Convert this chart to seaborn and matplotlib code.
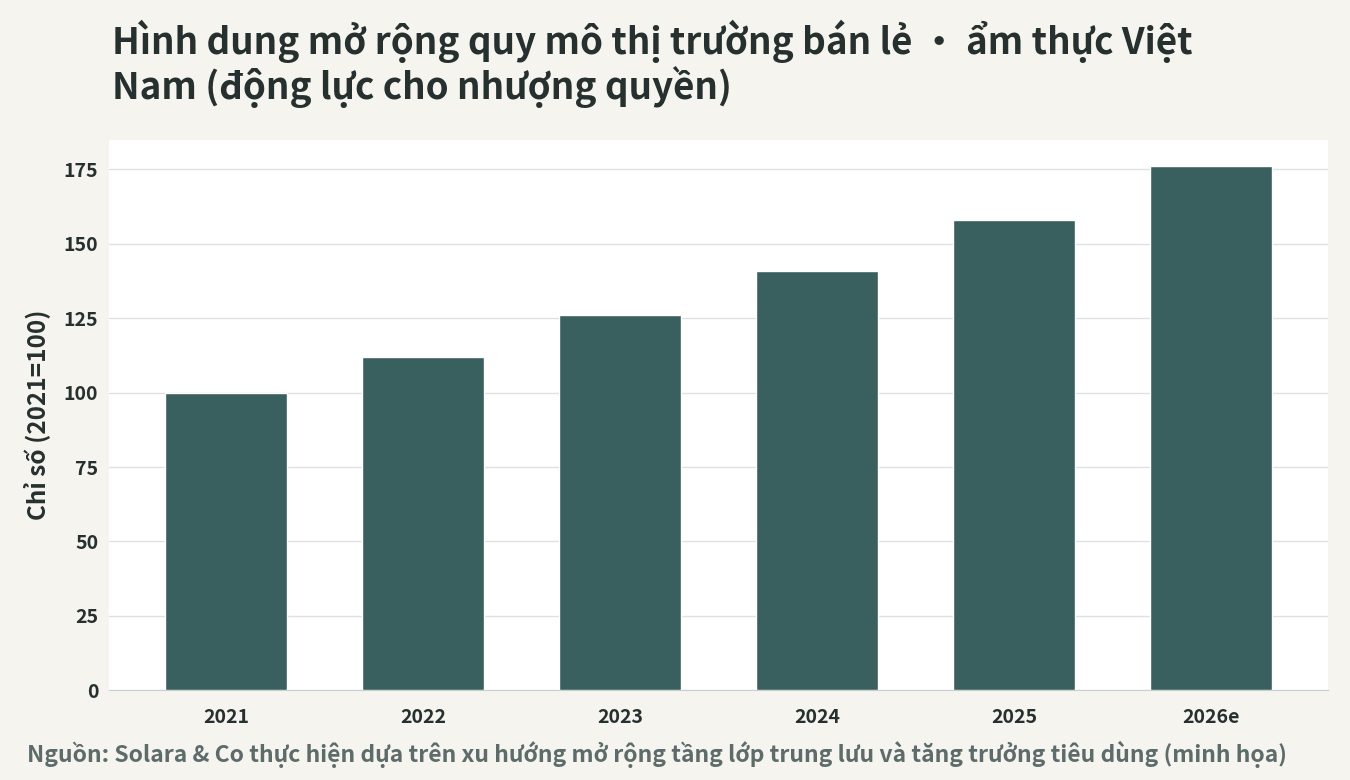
import matplotlib
matplotlib.use("Agg")
import matplotlib.pyplot as plt
import seaborn as sns
import pandas as pd

years = ["2021", "2022", "2023", "2024", "2025", "2026e"]
values = [100, 112, 126, 141, 158, 176]
title = "Hình dung mở rộng quy mô thị trường bán lẻ • ẩm thực Việt\nNam (động lực cho nhượng quyền)"
ylabel = "Chỉ số (2021=100)"
source = "Nguồn: Solara & Co thực hiện dựa trên xu hướng mở rộng tầng lớp trung lưu và tăng trưởng tiêu dùng (minh họa)"

sns.set_style("white")
plt.rcParams['font.family'] = ['Noto Sans CJK SC', 'Noto Sans', 'DejaVu Sans']
txt = "#26302f"

fig = plt.figure(figsize=(13.5, 7.8), dpi=100, facecolor="#f5f4ef")
ax = fig.add_axes([0.081, 0.115, 0.903, 0.706])
ax.set_facecolor("white")
df = pd.DataFrame({"year": years, "value": values})
sns.barplot(data=df, x="year", y="value", color="#3a5f5f", saturation=1, width=0.62, ax=ax, zorder=3)
ax.set_xlim(-0.594, 5.596)
ax.set_ylim(0, 185)
ax.set_yticks(range(0, 176, 25))
ax.grid(axis="y", color="#dde1e1", linewidth=1, zorder=0)
ax.set_axisbelow(True)
for s in ["top", "right", "left"]:
    ax.spines[s].set_visible(False)
ax.spines["bottom"].set_color("#c9cfcf")
ax.tick_params(axis="both", labelsize=14, colors=txt, length=0, pad=8)
ax.tick_params(axis="x", length=5, color="#c9cfcf")
for l in ax.get_xticklabels() + ax.get_yticklabels():
    l.set_fontweight("bold")
ax.set_xlabel("")
ax.set_ylabel(ylabel, fontsize=17.5, fontweight="bold", color=txt, labelpad=10)
fig.text(0.083, 0.975, title, fontsize=26.5, fontweight="bold", color=txt, va="top", linespacing=1.1)
fig.text(0.02, 0.015, source, fontsize=16.5, fontweight="bold", color="#5d6b6a", va="bottom")
fig.savefig("out.png", dpi=100, facecolor=fig.get_facecolor())
